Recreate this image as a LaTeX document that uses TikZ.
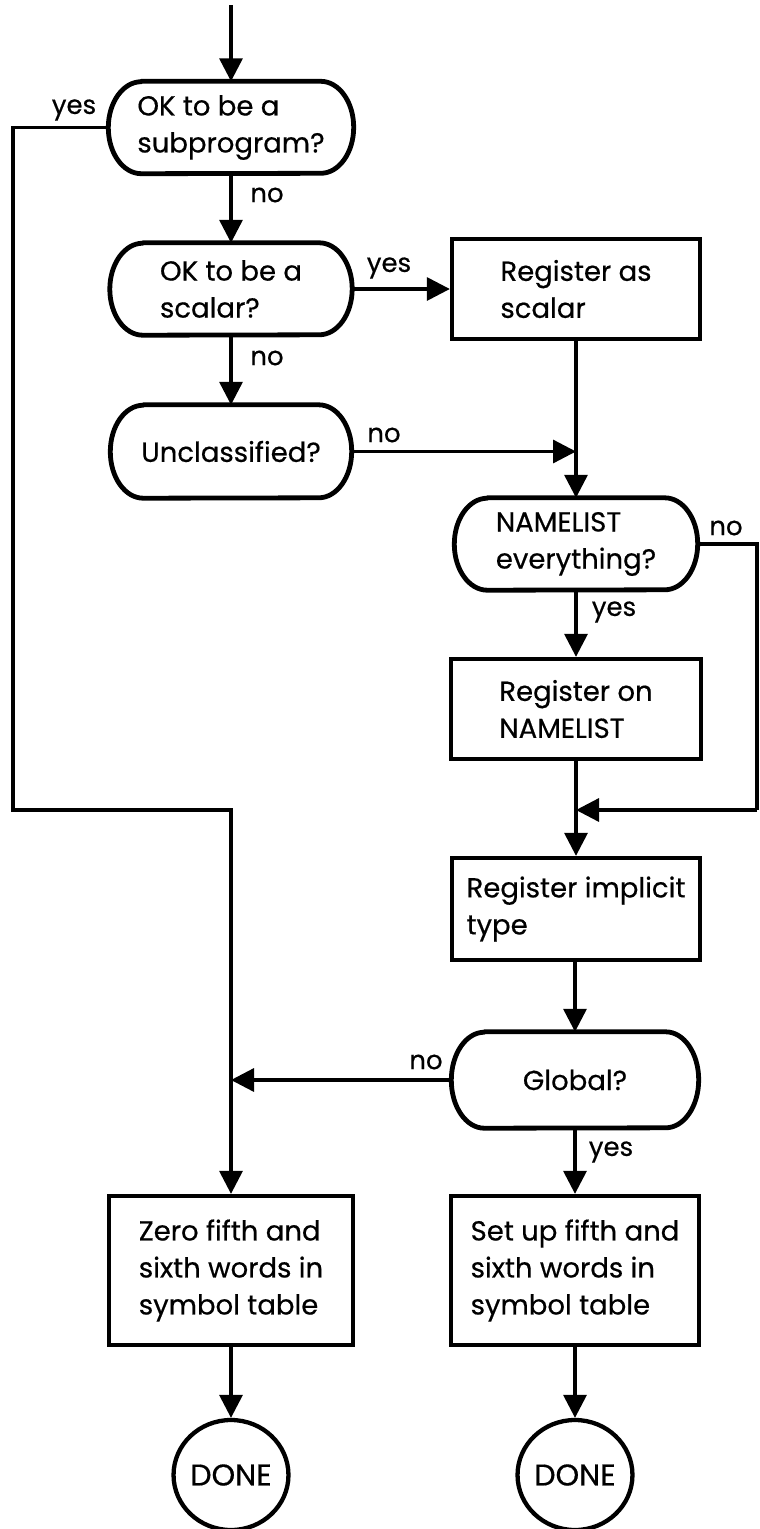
\documentclass[tikz,border=0pt]{standalone}
\usepackage{fontspec}
\setmainfont{Poppins}[FakeBold=0.5]
\usetikzlibrary{arrows.meta,shapes.geometric,calc}
\newcommand\mystadium[2]{%
  \draw[dline] ($(#1.north west)+(33,0)$) -- ($(#1.north east)+(-33,0)$)
    arc[start angle=-90,end angle=90,x radius=33,y radius=#2]
    -- ($(#1.south west)+(33,0)$)
    arc[start angle=90,end angle=270,x radius=33,y radius=#2] -- cycle;}
\begin{document}
\begin{tikzpicture}[x=1pt,y=-1pt,
  every node/.style={font=\fontsize{27.5}{37}\selectfont},
  decision/.style={draw=none, align=left, inner sep=0pt, minimum height=92pt},
  dline/.style={line width=4.8pt, line join=round},
  proc/.style={draw, line width=4.3pt, rectangle, align=left, inner sep=0pt},
  done/.style={draw, line width=4.3pt, ellipse, inner sep=0pt, minimum width=108pt, minimum height=110pt, font=\fontsize{30}{36}\selectfont},
  conn/.style={line width=3.3pt, -{Triangle[length=23pt,width=23pt]}},
  plain/.style={line width=3.3pt},
  lbl/.style={inner sep=0pt, font=\fontsize{26}{30}\selectfont}
]
\useasboundingbox (0,0) rectangle (760,1529);
% column A nodes
\node[decision, minimum width=245pt] (d1) at (231,127.5) {OK to be a\\subprogram?};
\node[decision, minimum width=242pt] (d2) at (231,289) {OK to be a\\scalar?};
\node[decision, minimum width=241pt, minimum height=93pt] (d3) at (231,451.5) {Unclassified?};
\node[proc, minimum width=244pt, minimum height=149pt] (b4) at (231,1270.5) {Zero fifth and\\sixth words in\\symbol table};
\node[done] (c1) at (231,1475) {DONE};
% column B nodes
\node[proc, minimum width=248pt, minimum height=100pt] (b1) at (576,289) {Register as\\scalar};
\node[decision, minimum width=243pt] (d4) at (576,544) {NAMELIST\\everything?};
\node[proc, minimum width=250pt, minimum height=100pt] (b2) at (576,709) {Register on\\NAMELIST};
\node[proc, minimum width=248pt, minimum height=102pt] (b3) at (576,909) {Register implicit\\type};
\node[decision, minimum width=247pt, minimum height=96pt] (d5) at (575,1080) {Global?};
\node[proc, minimum width=248pt, minimum height=149pt] (b5) at (575,1270.5) {Set up fifth and\\sixth words in\\symbol table};
\node[done] (c2) at (575,1475) {DONE};
% decision outlines
\mystadium{d1}{46}
\mystadium{d2}{46}
\mystadium{d3}{46.5}
\mystadium{d4}{46}
\mystadium{d5}{48}
% coordinates
\coordinate (start) at (231,5);
\coordinate (lyes1) at (13,127.5);
\coordinate (lyes2) at (13,810);
\coordinate (lyes3) at (231,810);
\coordinate (junc1) at (576,451.5);
\coordinate (rno1) at (757,544);
\coordinate (rno2) at (757,810);
\coordinate (junc2) at (576,810);
\coordinate (junc3) at (231,1080);
% connectors
\draw[conn] (start) -- (d1.north);
\draw[conn] (d1.west) -- (lyes1) -- (lyes2) -- (lyes3) -- (b4.north);
\draw[conn] (d1.south) -- (d2.north);
\draw[conn] (d2.east) -- (b1.west);
\draw[conn] (d2.south) -- (d3.north);
\draw[conn] (d3.east) -- (junc1);
\draw[conn] (b1.south) -- (d4.north);
\draw[plain] (d4.east) -- (rno1) -- (rno2);
\draw[conn] (rno2) -- (junc2);
\draw[conn] (d4.south) -- (b2.north);
\draw[conn] (b2.south) -- (b3.north);
\draw[conn] (b3.south -| d5.north) -- (d5.north);
\draw[conn] (d5.west) -- (junc3);
\draw[conn] (d5.south) -- (b5.north);
\draw[conn] (b4.south) -- (c1.north);
\draw[conn] (b5.south) -- (c2.north);
% labels
\node[lbl] (t1) at (74,110) {yes};
\node[lbl] (t2) at (267,195) {no};
\node[lbl] (t3) at (389,268) {yes};
\node[lbl] (t4) at (267,358) {no};
\node[lbl] (t5) at (384,435) {no};
\node[lbl] (t6) at (726,528) {no};
\node[lbl] (t7) at (614,612) {yes};
\node[lbl] (t8) at (426,1062) {no};
\node[lbl] (t9) at (611,1152) {yes};
\end{tikzpicture}
\end{document}
